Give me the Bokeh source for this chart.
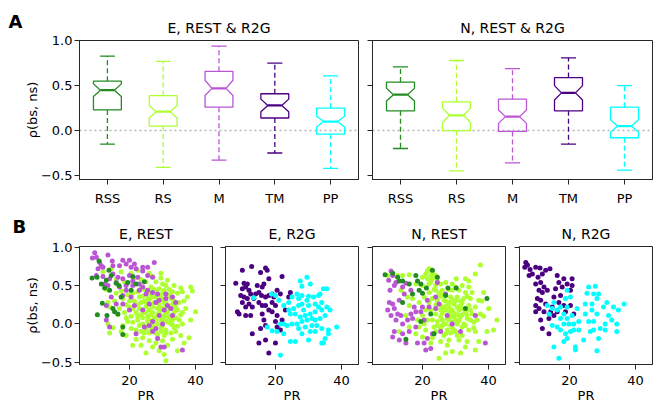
from bokeh.plotting import figure
from bokeh.layouts import row, column
from bokeh.models import Range1d, FixedTicker, CustomJSTickFormatter, Span, Label
from bokeh.embed import file_html
from bokeh.resources import INLINE

FONT = "DejaVu Sans"

# ---------------- data ----------------
categories = ["RSS", "RS", "M", "TM", "PP"]
cat_colors = ["#228B22", "#ADFF2F", "#BA55D3", "#4B0082", "#00FFFF"]
y_ticks = [-0.5, 0.0, 0.5, 1.0]
pr_ticks = [20, 40]

# Panel A, E: REST & R2G (notched box statistics)
E_whislo = [-0.15, -0.41, -0.33, -0.25, -0.42]
E_q1 = [0.23, 0.05, 0.26, 0.14, -0.04]
E_notch_lo = [0.38, 0.14, 0.39, 0.21, 0.04]
E_med = [0.45, 0.21, 0.47, 0.28, 0.10]
E_notch_hi = [0.52, 0.28, 0.56, 0.35, 0.16]
E_q3 = [0.55, 0.39, 0.66, 0.41, 0.25]
E_whishi = [0.83, 0.77, 0.94, 0.75, 0.61]

# Panel A, N: REST & R2G
N_whislo = [-0.20, -0.45, -0.36, -0.15, -0.44]
N_q1 = [0.22, 0.00, -0.01, 0.22, -0.08]
N_notch_lo = [0.33, 0.09, 0.08, 0.34, -0.02]
N_med = [0.40, 0.17, 0.155, 0.42, 0.05]
N_notch_hi = [0.47, 0.25, 0.23, 0.50, 0.12]
N_q3 = [0.54, 0.32, 0.35, 0.59, 0.26]
N_whishi = [0.71, 0.78, 0.69, 0.81, 0.50]

# Panel B scatter data: (PR, rho)
E_REST_RSS = [(10.8, 0.82), (8.7, 0.60), (10.2, 0.61), (11.5, 0.52), (13.0, 0.57), (14.5, 0.63),
              (12.5, 0.47), (16.0, 0.53), (16.8, 0.50), (19.5, 0.54), (22.0, 0.52), (14.0, 0.44),
              (11.8, 0.27), (10.3, 0.12), (13.2, 0.11), (15.5, 0.16), (16.5, 0.13), (18.0, -0.14),
              (18.0, -0.04), (21.0, 0.62), (13.8, 0.70), (24.5, 0.55), (17.5, 0.35), (20.5, 0.44),
              (15.0, 0.20)]
E_REST_RS = [(14.5, 0.72), (17.5, 0.68), (20.5, 0.66), (22.5, 0.70), (26.0, 0.66), (27.0, 0.62),
             (29.5, 0.66), (29.5, 0.60), (31.5, 0.57), (28.0, 0.55), (25.0, 0.55), (23.5, 0.58),
             (21.5, 0.60), (18.5, 0.55), (16.0, 0.58), (13.0, 0.45), (12.0, 0.68), (35.5, 0.47),
             (33.5, 0.50), (31.0, 0.50), (38.5, 0.48), (36.0, 0.42), (34.5, 0.40), (30.0, 0.52),
             (26.5, 0.48), (27.5, 0.45), (29.0, 0.46), (30.5, 0.44), (32.0, 0.45), (33.0, 0.42),
             (24.5, 0.45), (22.5, 0.42), (21.0, 0.40), (19.5, 0.38), (18.0, 0.33), (17.5, 0.43),
             (16.0, 0.40), (15.5, 0.30), (14.0, 0.22), (13.5, 0.28), (24.0, 0.36), (25.5, 0.33),
             (26.5, 0.38), (28.0, 0.35), (29.5, 0.32), (31.0, 0.30), (32.5, 0.33), (33.5, 0.30),
             (35.0, 0.28), (36.5, 0.30), (37.0, 0.20), (21.5, 0.30), (22.5, 0.25), (23.5, 0.28),
             (25.0, 0.22), (26.5, 0.25), (27.5, 0.28), (29.0, 0.25), (30.0, 0.20), (31.5, 0.22),
             (33.0, 0.20), (34.5, 0.18), (20.0, 0.22), (19.0, 0.25), (17.0, 0.20), (16.5, 0.12),
             (18.5, 0.15), (20.5, 0.10), (22.0, 0.15), (23.5, 0.12), (24.5, 0.15), (25.5, 0.10),
             (27.0, 0.15), (28.5, 0.12), (30.0, 0.10), (31.0, 0.14), (32.5, 0.10), (34.0, 0.08),
             (35.5, 0.12), (38.5, 0.05), (40.0, 0.16), (37.5, 0.35), (39.0, 0.43), (19.5, 0.03),
             (21.0, 0.02), (22.5, 0.05), (24.0, 0.00), (25.5, 0.04), (27.0, 0.02), (28.5, 0.00),
             (30.0, -0.02), (31.5, 0.02), (33.0, -0.01), (34.5, -0.03), (36.0, 0.00), (20.5, -0.06),
             (22.0, -0.08), (23.5, -0.10), (25.0, -0.07), (26.5, -0.08), (28.0, -0.12), (29.5, -0.10),
             (31.0, -0.08), (32.5, -0.12), (34.0, -0.10), (35.5, -0.15), (15.0, -0.05), (14.0, -0.12),
             (13.5, 0.00), (17.5, -0.10), (19.0, -0.15), (22.0, -0.20), (24.0, -0.18), (26.0, -0.22),
             (28.0, -0.25), (30.0, -0.22), (31.5, -0.28), (33.0, -0.20), (29.0, -0.35), (27.0, -0.30),
             (30.5, -0.40), (31.0, -0.48), (34.5, -0.35), (36.5, -0.25), (38.0, -0.18), (21.0, -0.28),
             (23.5, -0.28), (25.0, -0.38), (26.0, 0.18), (27.5, 0.08), (28.5, 0.20), (29.5, 0.05),
             (30.5, 0.28), (25.0, 0.28), (26.0, 0.05), (27.0, -0.03), (29.0, 0.38), (30.0, 0.40),
             (28.0, 0.42), (31.5, 0.36), (24.0, 0.08), (23.0, 0.20), (32.0, 0.05), (33.5, 0.15),
             (23.0, 0.35), (24.5, 0.30), (26.0, 0.32), (27.0, 0.35), (28.5, 0.30), (30.0, 0.33),
             (31.0, 0.25), (32.0, 0.38), (25.0, 0.15), (26.5, 0.12), (28.0, 0.05), (29.0, 0.15),
             (30.5, 0.05), (31.5, 0.10), (33.0, 0.05), (22.5, 0.10), (23.0, -0.02), (25.5, -0.02),
             (27.5, -0.06), (29.5, -0.05), (31.0, -0.12), (32.5, 0.00), (26.0, -0.12), (28.5, -0.15),
             (30.5, -0.15), (24.5, -0.12), (33.5, -0.05), (35.0, 0.05), (34.0, 0.22), (36.0, 0.15),
             (21.0, 0.20), (20.0, 0.30), (19.0, 0.08), (18.0, -0.02), (27.0, 0.22), (29.5, 0.18),
             (31.5, 0.16), (26.0, 0.42), (23.5, 0.47), (33.0, 0.26)]
E_REST_M = [(9.5, 0.93), (8.8, 0.86), (10.0, 0.87), (13.5, 0.90), (11.0, 0.80), (11.5, 0.76),
            (10.5, 0.72), (12.0, 0.74), (14.8, 0.82), (15.0, 0.76), (17.0, 0.76), (18.0, 0.83),
            (20.0, 0.83), (19.0, 0.78), (20.5, 0.74), (21.5, 0.78), (22.0, 0.72), (24.0, 0.74),
            (25.5, 0.74), (27.5, 0.80), (24.0, 0.69), (25.5, 0.63), (27.0, 0.61), (22.5, 0.61),
            (20.0, 0.63), (21.0, 0.56), (18.0, 0.59), (16.5, 0.61), (16.0, 0.54), (14.0, 0.59),
            (13.5, 0.50), (12.5, 0.52), (12.0, 0.62), (15.0, 0.65), (10.0, 0.63), (19.0, 0.50),
            (21.0, 0.50), (23.0, 0.52), (24.0, 0.48), (25.5, 0.44), (23.0, 0.44), (27.0, 0.41),
            (28.0, 0.28), (29.0, 0.31), (31.0, 0.33), (33.0, 0.35), (34.0, 0.28), (30.5, 0.18),
            (29.0, 0.11), (27.0, 0.03), (26.0, -0.02), (28.0, -0.06), (28.5, -0.19), (29.5, -0.30),
            (30.5, -0.30), (36.0, -0.34), (33.0, 0.11), (30.0, 0.00), (27.0, -0.10), (22.0, -0.13),
            (24.0, 0.18), (21.5, 0.24), (20.0, 0.18), (18.0, 0.26), (16.0, 0.26), (13.0, 0.24),
            (14.0, -0.04), (13.0, 0.05), (24.5, -0.04), (20.5, 0.35), (19.0, 0.44), (14.5, 0.35),
            (26.0, 0.26), (31.5, 0.24), (32.5, 0.20), (25.0, 0.39), (28.5, 0.39), (17.0, 0.48),
            (18.0, 0.37), (31.0, 0.39)]

E_R2G_TM = [(10.0, 0.70), (12.8, 0.75), (15.5, 0.67), (17.0, 0.73), (17.5, 0.70), (22.0, 0.62),
            (18.0, 0.59), (8.0, 0.53), (10.5, 0.53), (11.5, 0.52), (11.0, 0.48), (10.0, 0.46),
            (12.0, 0.44), (9.5, 0.37), (10.5, 0.35), (11.5, 0.33), (10.0, 0.28), (12.0, 0.26),
            (11.0, 0.22), (13.0, 0.22), (8.5, 0.16), (9.0, 0.13), (11.0, 0.11), (12.5, 0.11),
            (14.0, 0.39), (15.0, 0.41), (16.0, 0.48), (16.5, 0.52), (15.8, 0.37), (17.0, 0.35),
            (18.0, 0.37), (19.5, 0.35), (19.0, 0.39), (17.0, 0.24), (19.0, 0.28), (20.0, 0.24),
            (16.0, 0.24), (15.0, 0.28), (18.0, 0.18), (16.0, 0.13), (19.0, 0.16), (16.5, 0.05),
            (17.0, -0.02), (15.5, -0.06), (20.0, 0.03), (20.5, -0.04), (21.5, -0.08), (22.0, 0.05),
            (20.5, 0.11), (23.0, 0.18), (20.5, 0.44), (21.5, 0.39), (24.0, 0.35), (24.5, 0.41),
            (13.0, -0.13), (15.0, -0.25), (17.0, -0.21), (20.0, -0.25), (18.0, -0.38), (13.5, 0.33),
            (12.5, 0.39), (14.5, 0.50)]
E_R2G_PP = [(27.5, 0.56), (29.5, 0.61), (30.5, 0.52), (28.0, 0.49), (13.5, 0.34), (18.8, 0.39),
            (20.0, 0.37), (21.0, 0.31), (22.5, 0.24), (24.0, 0.28), (25.0, 0.35), (26.5, 0.39),
            (28.0, 0.37), (30.0, 0.36), (31.5, 0.35), (33.0, 0.37), (34.5, 0.46), (35.5, 0.46),
            (33.5, 0.39), (29.5, 0.31), (28.0, 0.26), (27.0, 0.24), (25.5, 0.20), (24.0, 0.18),
            (24.5, 0.13), (26.0, 0.13), (27.5, 0.09), (29.0, 0.11), (30.5, 0.13), (32.0, 0.16),
            (33.0, 0.22), (34.0, 0.18), (35.5, 0.22), (36.5, 0.18), (35.0, 0.11), (33.5, 0.07),
            (32.0, 0.05), (31.0, 0.07), (29.5, 0.05), (28.0, 0.03), (26.5, 0.00), (25.0, 0.00),
            (23.5, -0.02), (22.5, 0.00), (21.5, 0.00), (20.5, -0.10), (19.0, -0.09), (17.5, -0.04),
            (29.0, -0.04), (30.5, -0.10), (32.0, -0.10), (34.0, -0.06), (36.0, -0.08), (36.0, -0.13),
            (38.5, -0.04), (35.0, -0.19), (34.0, -0.25), (34.5, -0.25), (30.0, -0.21), (26.0, -0.23),
            (24.5, -0.23), (21.5, -0.41), (22.5, -0.13), (28.0, -0.13), (27.0, -0.06), (32.5, -0.02),
            (31.0, -0.02), (28.5, 0.18), (30.0, 0.24), (34.0, 0.28), (27.0, 0.33), (32.0, 0.26)]

N_REST_RSS = [(8.7, 0.64), (11.0, 0.66), (13.0, 0.56), (14.0, 0.56), (16.0, 0.52), (18.0, 0.63),
              (18.5, 0.56), (19.0, 0.44), (20.0, 0.40), (21.2, 0.47), (23.0, 0.70), (24.5, 0.61),
              (27.7, 0.47), (30.2, 0.47), (27.0, 0.37), (33.0, 0.20), (39.5, 0.33), (19.5, 0.03),
              (23.5, -0.13), (15.0, -0.20), (14.0, 0.28), (22.5, 0.13), (17.0, 0.39), (12.5, 0.61),
              (19.5, 0.52)]
N_REST_RS = [(37.5, 0.77), (36.0, 0.65), (33.0, 0.59), (30.2, 0.59), (22.0, 0.72), (21.0, 0.65),
             (22.5, 0.63), (24.0, 0.63), (23.0, 0.59), (21.5, 0.59), (20.0, 0.61), (16.0, 0.64),
             (14.0, 0.63), (12.5, 0.63), (9.5, 0.63), (18.0, 0.52), (20.0, 0.50), (22.0, 0.52),
             (24.0, 0.50), (25.5, 0.52), (27.0, 0.54), (29.0, 0.52), (32.0, 0.50), (34.0, 0.48),
             (38.5, 0.41), (35.0, 0.41), (33.0, 0.41), (31.0, 0.44), (29.0, 0.44), (26.0, 0.44),
             (24.0, 0.44), (22.0, 0.41), (28.5, 0.35), (30.5, 0.35), (32.5, 0.33), (34.5, 0.33),
             (37.0, 0.31), (40.0, 0.20), (42.5, 0.05), (26.5, 0.31), (24.5, 0.31), (23.0, 0.33),
             (25.5, 0.24), (27.5, 0.24), (29.5, 0.26), (31.5, 0.24), (34.0, 0.24), (36.0, 0.22),
             (27.0, 0.18), (29.0, 0.18), (31.0, 0.18), (33.0, 0.16), (35.0, 0.13), (37.5, 0.13),
             (24.0, 0.13), (25.5, 0.09), (27.5, 0.07), (29.5, 0.09), (31.5, 0.09), (33.5, 0.07),
             (24.5, 0.03), (26.5, 0.00), (28.5, -0.02), (30.5, 0.00), (32.5, 0.00), (23.5, -0.04),
             (25.5, -0.06), (27.5, -0.08), (29.5, -0.08), (34.0, -0.08), (36.0, -0.10), (39.5, -0.10),
             (41.5, -0.08), (21.0, -0.08), (19.0, -0.04), (20.0, -0.17), (22.5, -0.25), (25.0, -0.45),
             (27.0, -0.38), (29.0, -0.36), (31.5, -0.38), (33.5, -0.23), (31.0, -0.21), (28.0, -0.21),
             (25.5, -0.23), (37.0, -0.23), (36.0, -0.34), (18.0, -0.13), (16.0, -0.04), (15.0, 0.11),
             (18.5, 0.05), (20.0, 0.11), (21.5, 0.05), (22.5, 0.18), (16.0, 0.24), (19.0, 0.28),
             (17.0, 0.33), (20.5, 0.35), (15.5, 0.35), (13.5, 0.44), (13.0, -0.10), (34.0, 0.56),
             (27.0, -0.13), (30.5, -0.15), (28.0, 0.16), (30.0, 0.05), (32.0, -0.04), (23.0, 0.66),
             (21.5, 0.69), (24.5, 0.56), (26.0, 0.38), (28.0, 0.28), (30.0, 0.30), (32.0, 0.28),
             (26.0, 0.14), (28.5, 0.10), (30.5, 0.12), (26.0, -0.02), (29.0, 0.02), (24.0, -0.10),
             (27.5, -0.28), (33.0, -0.30), (35.5, 0.02), (38.0, 0.30),
             (24.0, 0.25), (25.5, 0.18), (26.5, 0.22), (28.0, 0.22), (29.5, 0.14), (30.5, 0.22),
             (32.0, 0.20), (33.5, 0.12), (34.5, 0.18), (23.0, 0.05), (24.5, -0.02), (26.0, 0.05),
             (27.0, 0.00), (28.0, 0.05), (29.0, -0.05), (31.0, 0.04), (32.0, 0.12), (33.0, -0.02),
             (34.5, 0.05), (35.5, -0.05), (26.5, -0.15), (28.5, -0.12), (30.0, -0.10), (32.0, -0.15),
             (25.0, 0.40), (27.0, 0.30), (29.0, 0.32), (31.5, 0.30), (33.5, 0.36), (22.0, 0.28),
             (21.0, 0.18), (20.5, 0.00), (23.0, -0.18), (25.5, 0.36), (28.0, 0.45), (30.0, 0.48),
             (36.5, 0.05), (38.5, 0.10), (23.5, 0.45), (22.5, 0.55)]
N_REST_M = [(10.5, 0.69), (11.0, 0.63), (9.8, 0.57), (11.5, 0.50), (10.2, 0.44), (12.0, 0.54),
            (14.0, 0.48), (15.0, 0.53), (16.5, 0.44), (14.5, 0.39), (13.0, 0.31), (11.0, 0.26),
            (10.0, 0.28), (11.5, 0.20), (9.5, 0.18), (10.5, 0.11), (12.5, 0.13), (13.5, 0.11),
            (12.0, 0.05), (14.0, 0.00), (15.5, 0.05), (16.5, 0.13), (18.0, 0.16), (17.5, 0.22),
            (20.0, 0.22), (22.0, 0.22), (24.0, 0.20), (25.0, 0.26), (21.5, 0.31), (24.0, 0.35),
            (27.0, 0.39), (24.5, 0.54), (11.5, -0.10), (11.0, -0.17), (13.0, -0.21), (15.0, -0.25),
            (16.0, -0.10), (18.0, -0.04), (18.5, -0.25), (20.5, -0.25), (21.5, -0.19), (23.0, -0.13),
            (21.0, -0.34), (22.5, -0.32), (25.5, -0.10), (27.5, 0.11), (29.0, 0.00), (31.5, -0.10),
            (36.0, 0.11), (39.0, -0.25), (14.0, -0.13), (17.0, 0.07), (19.5, 0.16), (20.5, 0.05)]

N_R2G_TM = [(6.8, 0.80), (7.3, 0.77), (6.5, 0.74), (8.1, 0.71), (8.8, 0.65), (7.8, 0.63),
            (9.8, 0.74), (11.1, 0.73), (12.8, 0.70), (14.1, 0.72), (11.8, 0.65), (10.5, 0.61),
            (9.8, 0.52), (11.3, 0.54), (12.3, 0.48), (10.8, 0.44), (11.8, 0.41), (13.3, 0.44),
            (16.3, 0.63), (18.3, 0.59), (20.8, 0.59), (16.8, 0.54), (19.3, 0.52), (20.8, 0.50),
            (17.8, 0.48), (20.3, 0.44), (10.3, 0.33), (11.3, 0.31), (9.8, 0.24), (10.8, 0.20),
            (9.8, 0.16), (12.3, 0.16), (13.8, 0.07), (11.3, 0.05), (11.8, -0.06), (13.8, -0.13),
            (15.3, 0.35), (14.8, 0.22), (16.8, 0.28), (18.3, 0.24), (20.3, 0.24), (16.3, 0.16),
            (18.8, 0.16), (21.3, 0.13), (14.3, 0.16), (15.3, 0.11), (12.8, 0.26), (17.3, 0.37),
            (15.8, 0.46)]
N_R2G_PP = [(25.8, 0.48), (27.8, 0.49), (25.3, 0.40), (27.3, 0.39), (28.8, 0.39), (28.3, 0.33),
            (24.8, 0.26), (26.8, 0.26), (31.3, 0.28), (33.3, 0.22), (36.5, 0.26), (34.8, 0.18),
            (24.8, 0.13), (28.3, 0.13), (31.8, 0.11), (32.8, 0.05), (25.8, 0.03), (27.3, 0.03),
            (30.8, 0.00), (29.3, -0.06), (27.3, -0.08), (26.3, -0.10), (30.8, -0.08), (34.3, -0.10),
            (28.8, -0.19), (24.3, -0.21), (28.3, -0.35), (16.8, -0.45), (15.3, -0.30), (18.3, -0.23),
            (19.3, -0.19), (21.8, -0.34), (21.8, -0.30), (18.8, -0.13), (20.3, -0.10), (21.3, -0.08),
            (22.8, -0.08), (17.3, -0.08), (16.3, -0.04), (14.8, -0.02), (18.3, 0.00), (19.8, 0.00),
            (21.3, 0.00), (22.8, 0.03), (17.3, 0.07), (19.3, 0.07), (20.8, 0.11), (18.3, 0.13),
            (16.3, 0.18), (17.3, 0.22), (19.3, 0.22), (15.3, 0.28), (13.3, 0.24), (18.8, 0.33),
            (20.3, 0.35), (19.3, 0.44), (14.8, 0.20), (13.8, 0.13), (22.3, 0.20), (30.3, 0.22),
            (34.3, 0.00), (26.8, 0.18)]

# ---------------- helpers ----------------
INK = "#262626"
Y_FMT = "return (tick < 0 ? '\u2212' : '') + Math.abs(tick).toFixed(1);"
EMPTY_FMT = "return '';"


def make_fig(w, h, xr, yr, borders, title, ylabels):
    bl, br, bt, bb = borders
    p = figure(width=w, height=h, x_range=Range1d(*xr), y_range=Range1d(*yr),
               output_backend="svg", toolbar_location=None, tools="",
               min_border_left=bl, min_border_right=br,
               min_border_top=bt, min_border_bottom=bb)
    p.title.text = title
    p.title.align = "center"
    p.title.text_font = FONT
    p.title.text_font_size = "14px"
    p.title.text_font_style = "normal"
    p.title.text_color = "black"
    p.title.standoff = 9
    p.xgrid.visible = False
    p.ygrid.visible = False
    p.outline_line_color = INK
    p.outline_line_width = 1
    p.background_fill_color = "white"
    p.border_fill_color = "white"
    for ax in (p.xaxis[0], p.yaxis[0]):
        ax.axis_line_color = INK
        ax.major_tick_line_color = INK
        ax.major_tick_out = 5
        ax.major_tick_in = 0
        ax.minor_tick_line_color = None
        ax.major_label_text_font = FONT
        ax.major_label_text_font_size = "13px"
        ax.major_label_text_color = "black"
        ax.axis_label_text_font = FONT
        ax.axis_label_text_font_size = "13px"
        ax.axis_label_text_font_style = "normal"
        ax.axis_label_text_color = "black"
    p.yaxis[0].ticker = FixedTicker(ticks=y_ticks)
    if ylabels:
        p.yaxis[0].formatter = CustomJSTickFormatter(code=Y_FMT)
        p.yaxis[0].axis_label = "\u03c1(bs, ns)"
        p.yaxis[0].major_label_standoff = 2
        p.yaxis[0].axis_label_standoff = -2
    else:
        p.yaxis[0].formatter = CustomJSTickFormatter(code=EMPTY_FMT)
        p.yaxis[0].major_label_standoff = 0
    return p


def draw_boxes(p, whislo, q1, nlo, med, nhi, q3, whishi):
    w = 0.5
    pos = [i + 1 for i in range(len(categories))]
    xs, ys = [], []
    for i, x in enumerate(pos):
        l, r, nl, nr = x - w / 2, x + w / 2, x - w / 4, x + w / 4
        xs.append([l, l, nl, l, l, r, r, nr, r, r])
        ys.append([q1[i], nlo[i], med[i], nhi[i], q3[i], q3[i], nhi[i], med[i], nlo[i], q1[i]])
    p.add_layout(Span(location=0, dimension="width", line_color="#b4b4b4",
                      line_dash="2 3", line_width=1.4, level="underlay"))
    p.segment(x0=pos, y0=q3, x1=pos, y1=whishi, line_color=cat_colors,
              line_width=1.3, line_dash="5 3")
    p.segment(x0=pos, y0=q1, x1=pos, y1=whislo, line_color=cat_colors,
              line_width=1.3, line_dash="5 3")
    cl = [x - w * 0.27 for x in pos]
    cr = [x + w * 0.27 for x in pos]
    p.segment(x0=cl, y0=whishi, x1=cr, y1=whishi, line_color=cat_colors, line_width=1.3)
    p.segment(x0=cl, y0=whislo, x1=cr, y1=whislo, line_color=cat_colors, line_width=1.3)
    p.patches(xs, ys, fill_alpha=0, line_color=cat_colors, line_width=1.3)
    p.segment(x0=[x - w / 4 for x in pos], y0=med, x1=[x + w / 4 for x in pos], y1=med,
              line_color=cat_colors, line_width=2.2)
    p.xaxis[0].ticker = FixedTicker(ticks=pos)
    p.xaxis[0].formatter = CustomJSTickFormatter(args=dict(names=categories),
                                                 code="return names[Math.round(tick) - 1];")
    p.xaxis[0].major_label_standoff = 6


def draw_scatter(p, series):
    for pts, color in series:
        p.scatter([a for a, b in pts], [b for a, b in pts], size=5, fill_color=color,
                  line_color=None)
    p.xaxis[0].ticker = FixedTicker(ticks=pr_ticks)
    p.xaxis[0].axis_label = "PR"
    p.xaxis[0].major_label_standoff = 6
    p.xaxis[0].axis_label_standoff = 0


def letter(p, text, x, y):
    p.add_layout(Label(x=x, y=y, x_units="screen", y_units="screen", text=text,
                       text_font=FONT, text_font_size="18px", text_font_style="bold",
                       text_color="black", text_align="left", text_baseline="alphabetic"),
                 "left")


A_X = (0.5, 5.5)
A_Y = (-0.545, 1.003)
B_X = (4.9, 45.1)
B_Y = (-0.53, 1.01)

color_of = dict(zip(categories, cat_colors))

a1 = make_fig(365, 208, A_X, A_Y, (79, 7, 40, 25), "E, REST & R2G", True)
draw_boxes(a1, E_whislo, E_q1, E_notch_lo, E_med, E_notch_hi, E_q3, E_whishi)
letter(a1, "A", 1, 158)

a2 = make_fig(293, 208, A_X, A_Y, (7, 6, 40, 25), "N, REST & R2G", False)
draw_boxes(a2, N_whislo, N_q1, N_notch_lo, N_med, N_notch_hi, N_q3, N_whishi)

b1 = make_fig(218, 200, B_X, B_Y, (79, 6, 38, 44), "E, REST", True)
draw_scatter(b1, [(E_REST_RS, color_of["RS"]), (E_REST_M, color_of["M"]),
                  (E_REST_RSS, color_of["RSS"])])
letter(b1, "B", 5, 138)

b2 = make_fig(147, 200, B_X, B_Y, (7, 7, 38, 44), "E, R2G", False)
draw_scatter(b2, [(E_R2G_TM, color_of["TM"]), (E_R2G_PP, color_of["PP"])])

b3 = make_fig(147, 200, B_X, B_Y, (7, 7, 38, 44), "N, REST", False)
draw_scatter(b3, [(N_REST_RS, color_of["RS"]), (N_REST_M, color_of["M"]),
                  (N_REST_RSS, color_of["RSS"])])

b4 = make_fig(146, 200, B_X, B_Y, (7, 6, 38, 44), "N, R2G", False)
draw_scatter(b4, [(N_R2G_TM, color_of["TM"]), (N_R2G_PP, color_of["PP"])])

layout = column(row(a1, a2), row(b1, b2, b3, b4))

open("out.html", "w", encoding="utf-8").write(file_html(layout, INLINE))
